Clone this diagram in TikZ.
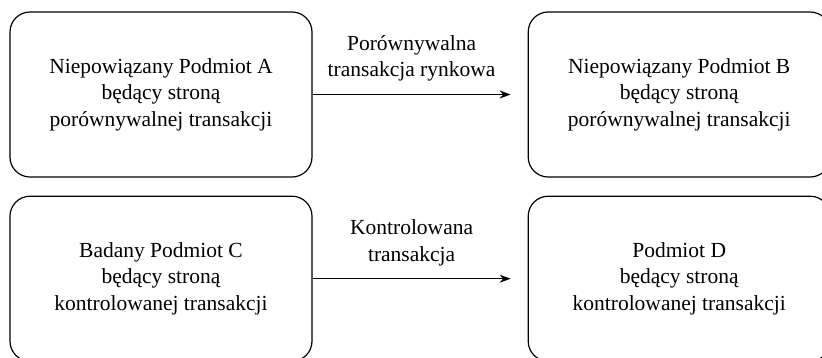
\documentclass[tikz,border=0pt]{standalone}
\usepackage{fontspec}
\setmainfont{Liberation Serif}
\usetikzlibrary{shapes,arrows.meta,positioning,calc}

\begin{document}
\begin{tikzpicture}[auto, >={Stealth[length=11pt,width=8pt]}, x=1pt, y=1pt]
        \tikzset{
            party/.style={draw, fill=white, rectangle, rounded corners=20pt, minimum width=302pt, minimum height=165pt, align=center, line width=1.2pt, font=\fontsize{21.5}{26.5}\selectfont},
            deal/.style={align=center, font=\fontsize{21.5}{26.5}\selectfont},
            flow/.style={->, line width=1.2pt}
        }
        \useasboundingbox (0,0) rectangle (822,-357);

        % Nodes
        \node [party] (pa) at (161,-94.5) {Niepowiązany Podmiot A\\ będący stroną\\ porównywalnej transakcji};
        \node [party, right=215pt of pa] (pb) {Niepowiązany Podmiot B\\ będący stroną\\ porównywalnej transakcji};
        \node [party, below=18pt of pa] (pc) {Badany Podmiot C\\ będący stroną\\ kontrolowanej transakcji};
        \node [party, below=18pt of pb] (pd) {Podmiot D\\ będący stroną\\ kontrolowanej transakcji};

        \coordinate [left=17pt of pb.west] (ab);
        \coordinate [left=17pt of pd.west] (cd);

        % Connections
        \draw [flow] (pa.east) -- node [deal, above=9pt] {Porównywalna\\ transakcja rynkowa} (ab);
        \draw [flow] (pc.east) -- node [deal, above=9pt] {Kontrolowana\\ transakcja} (cd);
    \end{tikzpicture}
\end{document}
